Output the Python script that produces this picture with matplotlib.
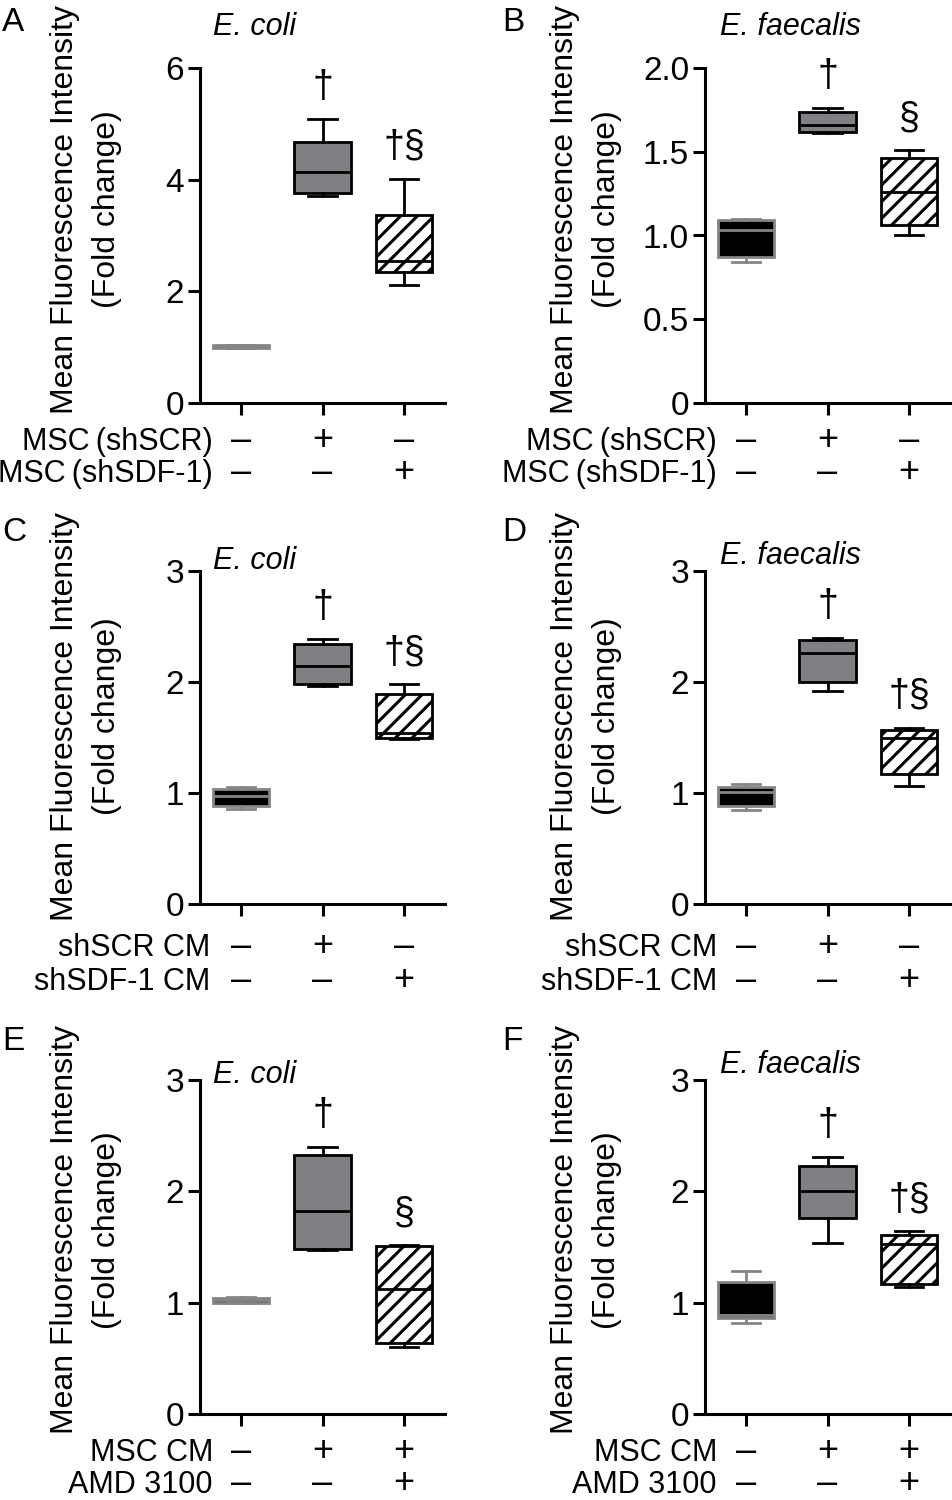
import matplotlib
matplotlib.use("Agg")
import matplotlib.pyplot as plt

plt.rcParams['font.family'] = ['Liberation Sans', 'DejaVu Sans']
plt.rcParams['hatch.linewidth'] = 2.2
plt.rcParams['hatch.color'] = 'black'

W, H = 952, 1500

# ---------------- data (whislo, q1, median, q3, whishi) per group ----------------
groups = ["ctrl", "shSCR", "shSDF-1"]

A_ctrl = [0.99, 0.99, 1.01, 1.03, 1.03]
A_scr = [3.70, 3.77, 4.13, 4.68, 5.09]
A_sdf = [2.11, 2.34, 2.54, 3.36, 4.02]

B_ctrl = [0.84, 0.87, 1.03, 1.09, 1.10]
B_scr = [1.61, 1.62, 1.66, 1.74, 1.76]
B_sdf = [1.00, 1.06, 1.26, 1.46, 1.51]

C_ctrl = [0.86, 0.88, 0.97, 1.04, 1.05]
C_scr = [1.96, 1.98, 2.14, 2.34, 2.39]
C_sdf = [1.49, 1.50, 1.54, 1.89, 1.98]

D_ctrl = [0.85, 0.88, 1.01, 1.05, 1.08]
D_scr = [1.92, 2.00, 2.26, 2.38, 2.40]
D_sdf = [1.06, 1.17, 1.50, 1.57, 1.59]

E_ctrl = [1.00, 1.00, 1.02, 1.04, 1.05]
E_cm = [1.47, 1.48, 1.82, 2.33, 2.40]
E_amd = [0.60, 0.64, 1.12, 1.51, 1.52]

F_ctrl = [0.82, 0.86, 0.89, 1.19, 1.28]
F_cm = [1.54, 1.76, 2.00, 2.23, 2.31]
F_amd = [1.14, 1.17, 1.53, 1.61, 1.64]

sig_A = ["", "†", "†§"]
sig_B = ["", "†", "§"]
sig_C = ["", "†", "†§"]
sig_D = ["", "†", "†§"]
sig_E = ["", "†", "§"]
sig_F = ["", "†", "†§"]

ticks_A = [0, 2, 4, 6]
ticklabels_A = ["0", "2", "4", "6"]
ticks_B = [0, 0.5, 1.0, 1.5, 2.0]
ticklabels_B = ["0", "0.5", "1.0", "1.5", "2.0"]
ticks_CF = [0, 1, 2, 3]
ticklabels_CF = ["0", "1", "2", "3"]

rows_AB = ["MSC\u2009(shSCR)", "MSC\u2009(shSDF-1)"]
signs_AB = [["–", "+", "–"], ["–", "–", "+"]]
rows_CD = ["shSCR CM", "shSDF-1 CM"]
signs_CD = [["–", "+", "–"], ["–", "–", "+"]]
rows_EF = ["MSC CM", "AMD 3100"]
signs_EF = [["–", "+", "+"], ["–", "–", "+"]]

title_coli = "E. coli"
title_faec = "E. faecalis"
ylab1 = "Mean Fluorescence Intensity"
ylab2 = "(Fold change)"

# ---------------- figure ----------------
fig = plt.figure(figsize=(W / 100, H / 100), dpi=100)

def fx(px):
    return px / W

def fy(py):
    return 1 - py / H

FS = 22
GRAY_FILL = '#7f8083'
GRAY_EDGE = '#858585'

panels = [
    ("A", [A_ctrl, A_scr, A_sdf], sig_A, ticks_A, ticklabels_A, 6, rows_AB, signs_AB, title_coli, 0, 0),
    ("B", [B_ctrl, B_scr, B_sdf], sig_B, ticks_B, ticklabels_B, 2.0, rows_AB, signs_AB, title_faec, 1, 0),
    ("C", [C_ctrl, C_scr, C_sdf], sig_C, ticks_CF, ticklabels_CF, 3, rows_CD, signs_CD, title_coli, 0, 1),
    ("D", [D_ctrl, D_scr, D_sdf], sig_D, ticks_CF, ticklabels_CF, 3, rows_CD, signs_CD, title_faec, 1, 1),
    ("E", [E_ctrl, E_cm, E_amd], sig_E, ticks_CF, ticklabels_CF, 3, rows_EF, signs_EF, title_coli, 0, 2),
    ("F", [F_ctrl, F_cm, F_amd], sig_F, ticks_CF, ticklabels_CF, 3, rows_EF, signs_EF, title_faec, 1, 2),
]

col_left = [200, 705]
ax_w = 245
row_top = [68, 571, 1080]
row_bot = [403, 904, 1414]
ylab_y = [209, 716, 1230]
title_base = [[35, 35], [569, 564], [1083, 1073]]
letter_base = [31, 541, 1050]
row_base = [[450, 482], [956, 990], [1461, 1493]]
rowlab_right = [[213, 717], [210, 717], [213, 717]]

for (letter, data, sig, ticks, tlabels, ymax, rows, signs, title, c, r) in panels:
    left = col_left[c]
    top, bot = row_top[r], row_bot[r]
    ax = fig.add_axes([fx(left), fy(bot), ax_w / W, (bot - top) / H])
    stats = [dict(whislo=d[0], q1=d[1], med=d[2], q3=d[3], whishi=d[4], fliers=[],
                  label=g) for d, g in zip(data, groups)]
    bp = ax.bxp(stats, positions=[0, 1, 2], widths=0.69, patch_artist=True,
                showfliers=False, capwidths=0.35,
                boxprops=dict(linewidth=2.0),
                medianprops=dict(linewidth=2.0),
                whiskerprops=dict(linewidth=2.0),
                capprops=dict(linewidth=2.0))
    styles = [('black', GRAY_EDGE, '', GRAY_EDGE),
              (GRAY_FILL, 'black', '', 'black'),
              ('white', 'black', '//', 'black')]
    for i, (fc, ec, hatch, lc) in enumerate(styles):
        b = bp['boxes'][i]
        b.set_facecolor(fc)
        b.set_edgecolor(ec)
        if hatch:
            b.set_hatch(hatch)
        bp['medians'][i].set_color(lc)
        for k in (2 * i, 2 * i + 1):
            bp['whiskers'][k].set_color(lc)
            bp['caps'][k].set_color(lc)

    # significance marks
    for i, s in enumerate(sig):
        if s:
            ax.text(i, data[i][4] + 0.095 * ymax, s, ha='center', va='center',
                    fontsize=27, color='black')

    ax.set_xlim(-0.5, 2.5)
    ax.set_ylim(0, ymax)
    ax.set_yticks(ticks)
    ax.set_yticklabels(tlabels)
    ax.set_xticks([0, 1, 2])
    ax.set_xticklabels([])
    for sp in ('top', 'right'):
        ax.spines[sp].set_visible(False)
    for sp in ('left', 'bottom'):
        ax.spines[sp].set_linewidth(2.2)
    ax.tick_params(direction='out', length=8.5, width=2.2, labelsize=24, pad=3,
                   color='black')

    # treatment rows
    for j, (lab, sg) in enumerate(zip(rows, signs)):
        yb = fy(row_base[r][j])
        fig.text(fx(rowlab_right[r][c]), yb, lab, ha='right', va='baseline', fontsize=FS)
        for i, s in enumerate(sg):
            xpix = ax.transData.transform((i, 0))[0]
            fig.text(xpix / W, yb, s, ha='center', va='baseline', fontsize=26)

    # y labels
    off = 0 if c == 0 else 500
    fig.text(fx(65 + off), fy(ylab_y[r]), ylab1, rotation=90, ha='center', va='center',
             fontsize=23)
    fig.text(fx(107 + off), fy(ylab_y[r]), ylab2, rotation=90, ha='center', va='center',
             fontsize=23)

    # title
    fig.text(fx(left + 13 + (2 if c == 1 else 0)), fy(title_base[r][c]), title,
             style='italic', ha='left', va='baseline', fontsize=FS)

    # panel letter
    fig.text(fx(2 + 500 * c), fy(letter_base[r]), letter, ha='left', va='baseline',
             fontsize=24)

fig.savefig("out.png", dpi=100)
